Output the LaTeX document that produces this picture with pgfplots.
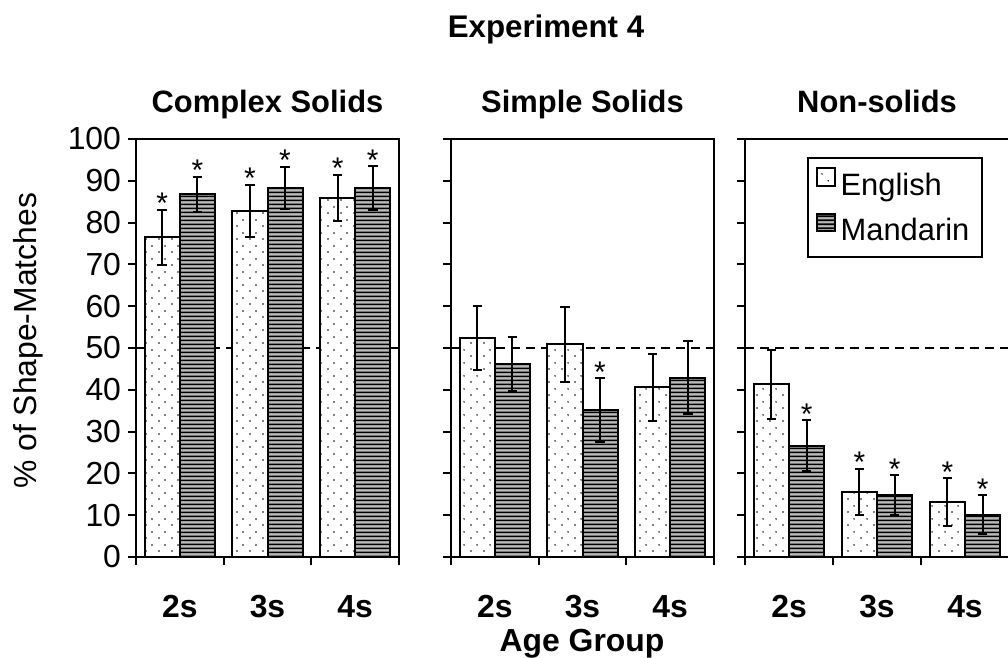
\documentclass[border=0pt]{standalone}
\usepackage{fontspec}
\setmainfont{Liberation Sans}
\usepackage{pgfplots}
\pgfplotsset{compat=1.18}
\usetikzlibrary{patterns.meta}

\tikzdeclarepattern{
  name=sparsedots,
  type=uncolored,
  bounding box={(0bp,0bp) and (6.5bp,6.5bp)},
  tile size={(6.5bp,6.5bp)},
  code={
    \fill (1.6bp,1.6bp) circle (0.45bp);
    \fill (4.85bp,4.85bp) circle (0.45bp);
  }
}
\tikzdeclarepattern{
  name=hstripes,
  type=uncolored,
  bounding box={(0bp,0bp) and (1bp,1.8bp)},
  tile size={(1bp,1.8bp)},
  code={
    \draw[line width=0.95bp] (-0.5bp,0.9bp) -- (1.5bp,0.9bp);
  }
}

\pgfplotsset{
  panel/.style={
    scale only axis, width=131.5bp, height=209bp, anchor=south west,
    xmin=0, xmax=3, ymin=0, ymax=100, clip=false,
    axis line style={line width=1bp, black},
    tick align=outside, xtick pos=left, ytick pos=left,
    ytick={0,10,...,100},
    major tick length=4bp, minor tick length=4bp,
    every tick/.style={black, line width=1bp},
    xtick={0.5,1.5,2.5}, xticklabels={2s,3s,4s},
    major x tick style={draw=none},
    minor xtick={0,1,2,3},
    minor x tick style={draw=black, line width=1bp},
    xticklabel style={font=\bfseries\fontsize{16}{16}\selectfont, anchor=north, inner sep=0pt, yshift=-15bp},
    yticklabel style={font=\fontsize{16}{16}\selectfont},
    /pgf/number format/assume math mode=true,
    title style={font=\bfseries\fontsize{15.5}{16}\selectfont, at={(0.5,1)}, anchor=base, yshift=7.5bp},
    every axis y label/.style={at={(axis description cs:-0.4106,0.517)}, rotate=90, anchor=center, font=\fontsize{16}{16}\selectfont},
  },
  fifty/.style={forget plot, black, line width=1bp, dash pattern=on 4.5bp off 3bp},
  errs/.style={error bars/.cd, y dir=both, y explicit,
    error bar style={line width=1bp, black},
    error mark options={rotate=90, mark size=2.4bp, line width=1bp, black}},
  englishbar/.style={ybar, bar width=0.4, bar shift=0pt, draw=black, line width=1bp, fill=white,
    postaction={pattern=sparsedots}, errs,
    /pgfplots/legend image code/.code={\draw[##1, line width=0.8bp] (0bp,0bp) rectangle (9bp,9bp);}},
  mandarinbar/.style={ybar, bar width=0.4, bar shift=0pt, draw=black, line width=1bp, fill=gray!55,
    postaction={pattern=hstripes}, errs,
    /pgfplots/legend image code/.code={\draw[##1, line width=0.8bp] (0bp,0bp) rectangle (9bp,8.5bp);}},
  stars/.style={forget plot, only marks, mark=text, text mark={*}, text mark as node=true,
    text mark style={font=\fontsize{15}{15}\selectfont, inner sep=0pt}},
}

\begin{document}
\begin{tikzpicture}
\useasboundingbox (0,0) rectangle (504bp,329bp);
\clip (0,0) rectangle (504bp,329bp);

\node[anchor=base, font=\bfseries\fontsize{15.7}{16}\selectfont] at (273bp,310bp) {Experiment 4};

% Panel 1
\begin{axis}[panel, at={(68bp,50.5bp)}, title={Complex Solids}, ylabel={\% of Shape-Matches}]
\addplot[fifty] coordinates {(0,50) (3,50)};
\addplot[englishbar] coordinates {(0.3,76.5) +- (0,6.6) (1.3,82.8) +- (0,6.2) (2.3,86.0) +- (0,5.5)};
\addplot[mandarinbar] coordinates {(0.7,86.8) +- (0,4.2) (1.7,88.3) +- (0,5.1) (2.7,88.3) +- (0,5.2)};
\addplot[stars] coordinates {(0.3,84.6) (0.7,92.5) (1.3,90.5) (1.7,94.9) (2.3,93.0) (2.7,95.0)};
\end{axis}

% Panel 2
\begin{axis}[panel, at={(225.5bp,50.5bp)}, title={Simple Solids}, yticklabels={}]
\addplot[fifty] coordinates {(0,50) (3,50)};
\addplot[englishbar] coordinates {(0.3,52.4) +- (0,7.6) (1.3,50.9) +- (0,9.0) (2.3,40.6) +- (0,8.0)};
\addplot[mandarinbar] coordinates {(0.7,46.2) +- (0,6.4) (1.7,35.2) +- (0,7.6) (2.7,42.9) +- (0,8.8)};
\addplot[stars] coordinates {(1.7,44.3)};
\end{axis}

\node[anchor=base, font=\bfseries\fontsize{16}{16}\selectfont] at (291bp,3.5bp) {Age Group};

% Panel 3
\begin{axis}[panel, at={(372.5bp,50.5bp)}, width=132bp, title={Non-solids}, yticklabels={},
  legend style={at={(axis cs:0.7045,95.7)}, anchor=north west, draw=black, line width=1bp,
    font=\fontsize{15.5}{18}\selectfont, inner xsep=4bp, inner ysep=4.5bp, row sep=5.5bp,
    nodes={inner xsep=2.5bp}},
  legend cell align=left]
\addplot[fifty] coordinates {(0,50) (3,50)};
\addplot[englishbar] coordinates {(0.3,41.3) +- (0,8.3) (1.3,15.6) +- (0,5.5) (2.3,13.2) +- (0,5.7)};
\addlegendentry{English}
\addplot[mandarinbar] coordinates {(0.7,26.6) +- (0,6.1) (1.7,14.8) +- (0,4.7) (2.7,10.1) +- (0,4.7)};
\addlegendentry{Mandarin}
\addplot[stars] coordinates {(0.7,34.2) (1.3,22.6) (1.7,21.0) (2.3,20.4) (2.7,16.3)};
\end{axis}
\end{tikzpicture}
\end{document}
